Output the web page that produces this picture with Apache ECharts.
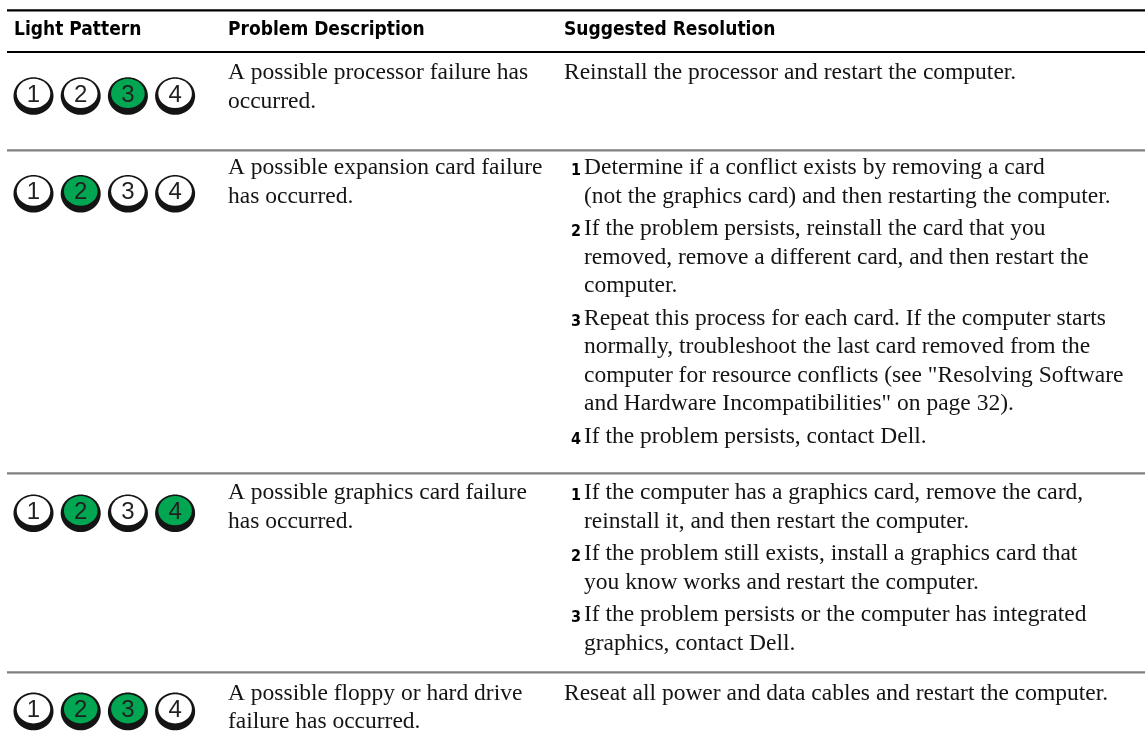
<!DOCTYPE html>
<html>
<head>
<meta charset="utf-8">
<script src="https://cdn.jsdelivr.net/npm/echarts@6/dist/echarts.min.js"></script>
<style>
  html, body { margin: 0; padding: 0; background: #ffffff; }
  #chart { width: 1145px; height: 732px; }
</style>
</head>
<body>
<div id="chart"></div>
<script>
// ---------------- DATA ----------------
const columnHeaders = ['Light Pattern', 'Problem Description', 'Suggested Resolution'];
const ledLabels = ['1', '2', '3', '4'];
// 1 = LED lit (green), 0 = off
const lightPatterns = [
  [0, 0, 1, 0],
  [0, 1, 0, 0],
  [0, 1, 0, 1],
  [0, 1, 1, 0]
];
const problemDescriptions = [
  ['A possible processor failure has', 'occurred.'],
  ['A possible expansion card failure', 'has occurred.'],
  ['A possible graphics card failure', 'has occurred.'],
  ['A possible floppy or hard drive', 'failure has occurred.']
];
const resolutionSteps = [
  [
    ['Reinstall the processor and restart the computer.']
  ],
  [
    ['Determine if a conflict exists by removing a card', '(not the graphics card) and then restarting the computer.'],
    ['If the problem persists, reinstall the card that you', 'removed, remove a different card, and then restart the', 'computer.'],
    ['Repeat this process for each card. If the computer starts', 'normally, troubleshoot the last card removed from the', 'computer for resource conflicts (see "Resolving Software', 'and Hardware Incompatibilities" on page 32).'],
    ['If the problem persists, contact Dell.']
  ],
  [
    ['If the computer has a graphics card, remove the card,', 'reinstall it, and then restart the computer.'],
    ['If the problem still exists, install a graphics card that', 'you know works and restart the computer.'],
    ['If the problem persists or the computer has integrated', 'graphics, contact Dell.']
  ],
  [
    ['Reseat all power and data cables and restart the computer.']
  ]
];

// ---------------- LAYOUT (positions / sizes / styles) ----------------
const W = 1145, H = 732;
const L = {
  ruleX0: 7,
  topRuleY: 10.3,
  headRuleY: 52,
  rowTops: [52, 150.3, 473.3, 672.4],
  colX: [14, 228, 564],
  numX: 571,
  stepX: 584,
  headBaseline: 36.5,
  firstBaseline: [29, 26, 28, 29],
  lineH: 28.5,
  stepGap: 4,
  ledX0: 33.5,
  ledDX: 47.2,
  ledDY: [44, 43.5, 40, 39],
  ledOuterRx: 20, ledOuterRy: 18.8,
  ledInnerRx: 16.8, ledInnerRy: 14.6, ledInnerShift: 2.6,
  ledFont: 24,
  headFont: 19,
  bodyFont: 23.5,
  numFont: 16
};
const HEAD_FAMILY = '"DejaVu Sans Condensed", "Liberation Sans Narrow", "Liberation Sans", sans-serif';
const BODY_FAMILY = '"Liberation Serif", "DejaVu Serif", serif';
const LED_FAMILY = '"Liberation Sans", Arial, sans-serif';
const GREEN = '#00a651';
const INK = '#141414';

// baseline -> vertical middle for canvas 'middle' alignment
function mid(baseline, fs) { return baseline - 0.34 * fs; }

// ---------------- Build text items from the data ----------------
const textItems = [];
columnHeaders.forEach((h, c) => {
  textItems.push({ t: h, x: L.colX[c], b: L.headBaseline, fs: L.headFont, fam: HEAD_FAMILY, w: 'bold', col: '#000' });
});
problemDescriptions.forEach((lines, r) => {
  const b0 = L.rowTops[r] + L.firstBaseline[r];
  lines.forEach((ln, i) => {
    textItems.push({ t: ln, x: L.colX[1], b: b0 + i * L.lineH, fs: L.bodyFont, fam: BODY_FAMILY, w: 'normal', col: INK });
  });
});
resolutionSteps.forEach((steps, r) => {
  let b = L.rowTops[r] + L.firstBaseline[r];
  const numbered = steps.length > 1;
  steps.forEach((lines, s) => {
    if (numbered) {
      textItems.push({ t: String(s + 1), x: L.numX, b: b, fs: L.numFont, fam: HEAD_FAMILY, w: 'bold', col: '#000' });
    }
    lines.forEach((ln, i) => {
      textItems.push({ t: ln, x: numbered ? L.stepX : L.colX[2], b: b + i * L.lineH, fs: L.bodyFont, fam: BODY_FAMILY, w: 'normal', col: INK });
    });
    b += lines.length * L.lineH + L.stepGap;
  });
});

const ledItems = [];
lightPatterns.forEach((pat, r) => pat.forEach((on, k) => ledItems.push([r, k, on])));

const ruleItems = [
  [L.topRuleY, 1],
  [L.headRuleY, 1]
].concat(L.rowTops.slice(1).map(y => [y, 0]));

// ---------------- Chart ----------------
const chart = echarts.init(document.getElementById('chart'), null, { renderer: 'canvas' });

chart.setOption({
  animation: false,
  backgroundColor: '#ffffff',
  grid: { left: 0, right: 0, top: 0, bottom: 0 },
  xAxis: { type: 'value', min: 0, max: W, show: false },
  yAxis: { type: 'value', min: 0, max: H, inverse: true, show: false },
  series: [
    {
      name: 'rules',
      type: 'custom',
      silent: true,
      clip: false,
      data: ruleItems,
      renderItem: function (params, api) {
        const y = api.value(0);
        const strong = api.value(1) === 1;
        const p0 = api.coord([L.ruleX0, y]);
        const p1 = api.coord([W, y]);
        return {
          type: 'line',
          shape: { x1: p0[0], y1: p0[1], x2: p1[0], y2: p1[1] },
          style: { stroke: strong ? '#000000' : '#808080', lineWidth: 2.2 }
        };
      }
    },
    {
      name: 'leds',
      type: 'custom',
      silent: true,
      clip: false,
      data: ledItems,
      renderItem: function (params, api) {
        const r = api.value(0), k = api.value(1), on = api.value(2) === 1;
        const c = api.coord([L.ledX0 + k * L.ledDX, L.rowTops[r] + L.ledDY[r]]);
        const ic = [c[0], c[1] - L.ledInnerShift];
        return {
          type: 'group',
          children: [
            { type: 'ellipse', shape: { cx: c[0], cy: c[1], rx: L.ledOuterRx, ry: L.ledOuterRy }, style: { fill: '#141414' } },
            { type: 'ellipse', shape: { cx: ic[0], cy: ic[1], rx: L.ledInnerRx, ry: L.ledInnerRy }, style: { fill: on ? GREEN : '#ffffff' } },
            {
              type: 'text',
              style: {
                text: ledLabels[k], x: ic[0], y: ic[1] + 1.5,
                fontSize: L.ledFont, fontFamily: LED_FAMILY, fontWeight: 'normal',
                fill: '#231f20', align: 'center', verticalAlign: 'middle'
              }
            }
          ]
        };
      }
    },
    {
      name: 'text',
      type: 'custom',
      silent: true,
      clip: false,
      data: textItems.map((d, i) => [i]),
      renderItem: function (params, api) {
        const d = textItems[api.value(0)];
        const p = api.coord([d.x, mid(d.b, d.fs)]);
        return {
          type: 'text',
          style: {
            text: d.t, x: p[0], y: p[1],
            fontSize: d.fs, fontFamily: d.fam, fontWeight: d.w,
            fill: d.col, align: 'left', verticalAlign: 'middle'
          }
        };
      }
    }
  ]
});
</script>
</body>
</html>
